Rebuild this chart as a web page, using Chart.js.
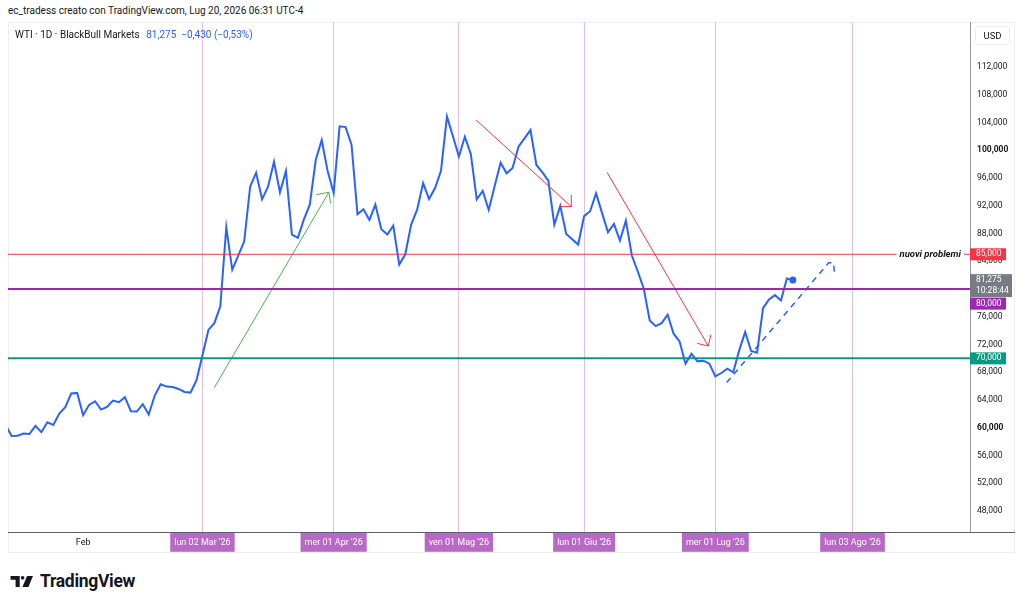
<!DOCTYPE html>
<html>
<head>
<meta charset="utf-8">
<script src="https://cdn.jsdelivr.net/npm/chart.js@4.4.1/dist/chart.umd.min.js"></script>
<style>
  html, body { margin: 0; padding: 0; background: #fff; }
  body { width: 1024px; height: 603px; position: relative; overflow: hidden; font-family: Roboto, "Noto Sans", sans-serif; color: #131722; }
  #credit { position: absolute; left: 8px; top: 5px; font-size: 10px; white-space: nowrap; }
  #frame { position: absolute; left: 8px; top: 22px; width: 1007px; height: 531px; box-sizing: border-box; border: 1px solid #eceef2; }
  #wrap { position: absolute; left: 8px; top: 22px; width: 1007px; height: 531px; }
  #legend { position: absolute; left: 15px; top: 29px; font-size: 10px; white-space: nowrap; }
  #legend .v { color: #2962ff; margin-left: 4px; }
  #usd { position: absolute; left: 975px; top: 26px; width: 35px; height: 19px; border: 1px solid #eceef2; border-radius: 4px; box-sizing: border-box; font-size: 9.5px; text-align: center; line-height: 17px; }
  #logo { position: absolute; left: 10px; top: 571px; display: flex; align-items: center; }
  #logo span { font-size: 17.5px; font-weight: 700; margin-left: 6px; letter-spacing: -0.3px; }
</style>
</head>
<body>
<div id="credit">ec_tradess creato con TradingView.com, Lug 20, 2026 06:31 UTC-4</div>
<div id="frame"></div>
<div id="wrap"><canvas id="chart"></canvas></div>
<div id="legend">WTI · 1D · BlackBull Markets <span class="v">81,275&nbsp;&nbsp;−0,430 (−0,53%)</span></div>
<div id="usd">USD</div>
<div id="logo">
  <svg width="24" height="11" viewBox="0 0 25 12"><path d="M0 0H10V12H5.5V4H0Z" fill="#131722"/><circle cx="13.2" cy="2" r="2" fill="#131722"/><path d="M18 0H24.5L19.5 12H13Z" fill="#131722"/></svg>
  <span>TradingView</span>
</div>
<script>
// daily closes, one per trading day (Jan 16 .. Jul 20 2026)
const prices = [60400, 58830, 58850, 59170, 59100, 60270, 59360, 60800, 60420, 62050,
  62960, 64930, 65020, 61810, 63300, 63820, 62620, 63000, 63920, 63680,
  64400, 62380, 62330, 63390, 61900, 64640, 66270, 65930, 65880, 65590,
  65160, 65070, 66840,
  70400, 74100, 75080, 77500, 88890, 82760, 84820, 86830, 94740, 96750,
  92920, 94740, 98340, 93930, 97000, 87840, 87360, 90000, 92150, 98580,
  101460, 96950,
  93840, 103430, 103330, 100780, 90760, 91480, 89950, 92150, 88600, 87840,
  89130, 83520, 84960, 89270, 91420, 95260, 92960, 94540, 97040, 104850, 102000,
  99100, 101930, 99440, 92920, 94120, 91390, 94840, 98190, 96660, 97430,
  100500, 101690, 102900, 97870, 96800, 95600, 89270, 91960, 87930, 87170, 86400,
  90500, 91200, 93780, 90960, 88170, 89370, 86970, 89850, 84820, 82520,
  80030, 75470, 74650, 75080, 76290, 73560, 72450, 69240, 70680, 69570,
  69670, 69240,
  67410, 67890, 68520, 67990, 71150, 73790, 71060, 70820, 77240, 78490,
  79110, 78350, 81510, 81275];

// time axis: bar index of each label
const monthBars = [13, 33, 55, 76, 97, 119, 142];
const monthLabels = ['Feb', "lun 02 Mar '26", "mer 01 Apr '26", "ven 01 Mag '26", "lun 01 Giu '26", "mer 01 Lug '26", "lun 03 Ago '26"];

const yTicks = [48000, 52000, 56000, 60000, 64000, 68000, 72000, 76000, 80000, 84000, 88000, 92000, 96000, 100000, 104000, 108000, 112000];
const xMin = 0.4, xMax = 161.7;
const yMin = 44980, yMax = 118470;

// horizontal levels
const levels = [85000, 80000, 70000];
const levelColors = ['#f23645', '#9c27b0', '#089981'];
const levelWidths = [1, 2, 2];
const levelNote = 'nuovi problemi';
const lastClock = '10:28:44';

// drawings [bar, price]
const greenArrow = [[35.0, 65790], [54.2, 93930]];
const greenHead = [[52.1, 93590], [54.2, 93930], [54.5, 92340]];
const redArrow1 = [[78.9, 104330], [94.85, 91870]];
const redHead1 = [[93.0, 91870], [94.85, 91870], [94.85, 93550]];
const redArrow2 = [[100.85, 96800], [117.82, 71780]];
const redHead2 = [[118.26, 73410], [117.82, 71780], [115.97, 72160]];
const projection = [[120.9, 66510], [138.0, 83770], [138.8, 83770], [139.0, 82190]];

const fmt = v => v.toLocaleString('en-US');
const pts = arr => arr.map(p => ({ x: p[0], y: p[1] }));
const draw = (arr, color, extra) => Object.assign({ data: pts(arr), borderColor: color, borderWidth: 1, pointRadius: 0, tension: 0 }, extra || {});

const datasets = [];
levels.forEach((lv, i) => datasets.push(draw([[xMin, lv], [xMax, lv]], levelColors[i], { borderWidth: levelWidths[i] })));
datasets.push(draw(greenArrow, '#4caf50'), draw(greenHead, '#4caf50'));
datasets.push(draw(redArrow1, '#f23645'), draw(redHead1, '#f23645'));
datasets.push(draw(redArrow2, '#f23645'), draw(redHead2, '#f23645'));
datasets.push(draw(projection, '#2962ff', { borderWidth: 1.5, borderDash: [6, 5] }));
datasets.push({
  data: prices.map((v, i) => ({ x: i, y: v })),
  borderColor: '#2962ff', backgroundColor: '#2962ff', borderWidth: 2, tension: 0,
  pointRadius: ctx => ctx.dataIndex === prices.length - 1 ? 2.5 : 0
});

function box(ctx, x, yc, w, h, bg, lines, font) {
  ctx.fillStyle = bg;
  ctx.fillRect(x, yc - h / 2, w, h);
  ctx.fillStyle = '#fff';
  ctx.font = font;
  ctx.textBaseline = 'middle';
  ctx.textAlign = 'left';
  const lh = h / lines.length;
  lines.forEach((t, i) => ctx.fillText(t, x + 6, yc - h / 2 + lh * (i + 0.5)));
}

const overlay = {
  id: 'overlay',
  afterDraw(chart) {
    const { ctx, chartArea, scales } = chart;
    const y = scales.y;
    const axX = chartArea.right;
    const font = '8.5px Roboto, sans-serif';
    ctx.save();
    // note on the 85 level
    const yn = y.getPixelForValue(levels[0]);
    ctx.font = 'italic bold 9.5px Roboto, sans-serif';
    const tw = ctx.measureText(levelNote).width;
    ctx.fillStyle = '#fff';
    ctx.fillRect(axX - tw - 12, yn - 6, tw + 6, 12);
    ctx.fillStyle = '#131722';
    ctx.textBaseline = 'middle';
    ctx.textAlign = 'left';
    ctx.fillText(levelNote, axX - tw - 9, yn);
    // axis boxes
    box(ctx, axX, yn, 36, 12, levelColors[0], [fmt(levels[0])], font);
    const last = prices[prices.length - 1];
    const yp = y.getPixelForValue(last);
    const priceTop = yp - 6;
    box(ctx, axX, priceTop + 11.5, 42, 23, '#787b86', [fmt(last), lastClock], font);
    box(ctx, axX, priceTop + 23 + 6.5, 36, 12, levelColors[1], [fmt(levels[1])], font);
    box(ctx, axX, y.getPixelForValue(levels[2]), 36, 12, levelColors[2], [fmt(levels[2])], font);
    // time axis line under the price scale too
    ctx.strokeStyle = '#5d606b';
    ctx.lineWidth = 1;
    ctx.beginPath();
    ctx.moveTo(axX, chartArea.bottom + 0.5);
    ctx.lineTo(chart.width, chartArea.bottom + 0.5);
    ctx.stroke();
    ctx.restore();
  }
};

new Chart(document.getElementById('chart'), {
  type: 'line',
  data: { datasets },
  plugins: [overlay],
  options: {
    responsive: true,
    maintainAspectRatio: false,
    animation: false,
    layout: { padding: 0, autoPadding: false },
    plugins: { legend: { display: false }, tooltip: { enabled: false } },
    scales: {
      x: {
        type: 'linear', min: xMin, max: xMax,
        afterBuildTicks: s => { s.ticks = monthBars.map(v => ({ value: v })); },
        afterFit: s => { s.height = 21; s.paddingLeft = 0; s.paddingRight = 0; },
        grid: { drawTicks: false, color: ctx => ctx.index === 0 ? 'rgba(0,0,0,0)' : '#e1bee7', lineWidth: 1 },
        border: { color: '#5d606b', width: 1 },
        ticks: {
          autoSkip: false, maxRotation: 0, padding: 5,
          font: { size: 9, family: "'Liberation Sans Narrow', Roboto, sans-serif" },
          color: ctx => ctx.index === 0 ? '#131722' : '#ffffff',
          showLabelBackdrop: ctx => ctx.index !== 0,
          backdropColor: '#ba68c8',
          backdropPadding: { left: 4, right: 4, top: 4, bottom: 4 },
          callback: (v, i) => monthLabels[i]
        }
      },
      y: {
        type: 'linear', position: 'right', min: yMin, max: yMax,
        afterBuildTicks: s => { s.ticks = yTicks.map(v => ({ value: v })); },
        afterFit: s => { s.width = 45; s.paddingTop = 0; s.paddingBottom = 0; },
        grid: { display: false, drawTicks: false },
        border: { color: '#9598a1', width: 1 },
        ticks: {
          padding: 7,
          font: ctx => ({ size: 8.5, family: 'Roboto, sans-serif', weight: ctx.tick && ctx.tick.value % 20000 === 0 ? 'bold' : 'normal' }),
          color: '#131722',
          callback: v => fmt(v)
        }
      }
    }
  }
});
</script>
</body>
</html>
